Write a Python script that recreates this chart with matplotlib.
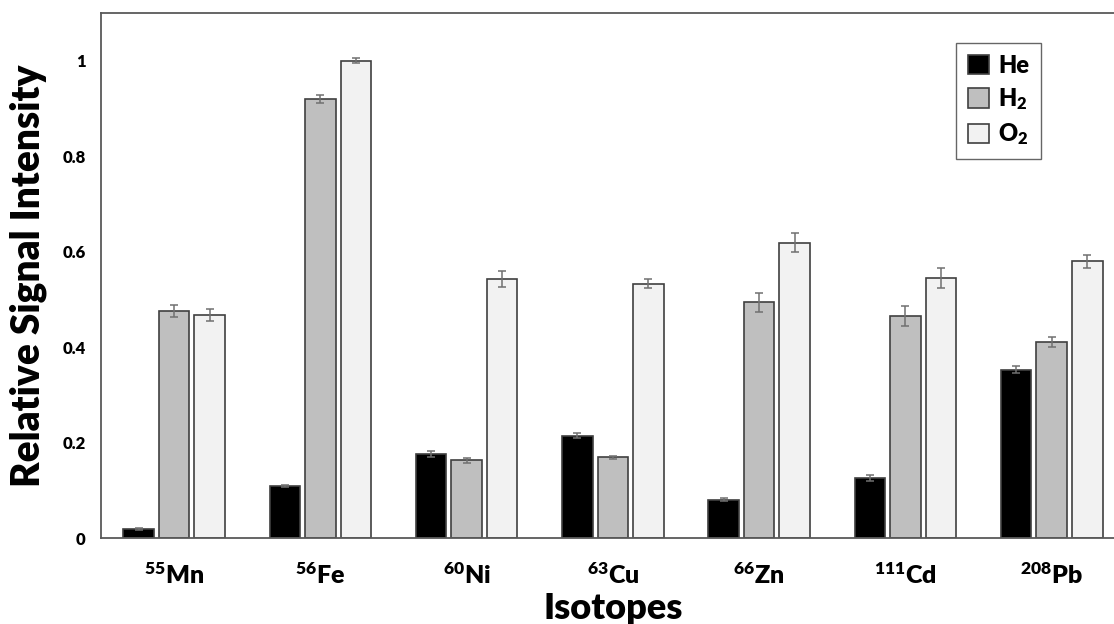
import matplotlib
matplotlib.use("Agg")
import matplotlib.pyplot as plt
import numpy as np

plt.rcParams['font.family'] = ['Lato', 'DejaVu Sans']
plt.rcParams['mathtext.default'] = 'regular'

isotopes = ["$^{55}$Mn", "$^{56}$Fe", "$^{60}$Ni", "$^{63}$Cu", "$^{66}$Zn", "$^{111}$Cd", "$^{208}$Pb"]
series_names = ["He", "H$_2$", "O$_2$"]

he_vals = [0.019, 0.110, 0.176, 0.215, 0.081, 0.127, 0.353]
he_err = [0.002, 0.002, 0.006, 0.006, 0.003, 0.006, 0.008]
h2_vals = [0.476, 0.920, 0.163, 0.170, 0.494, 0.465, 0.411]
h2_err = [0.012, 0.008, 0.005, 0.003, 0.020, 0.021, 0.010]
o2_vals = [0.467, 1.000, 0.543, 0.533, 0.619, 0.545, 0.580]
o2_err = [0.012, 0.005, 0.016, 0.010, 0.019, 0.021, 0.014]

colors = ["#000000", "#bfbfbf", "#f2f2f2"]
edge = "#404040"
W = 'heavy'

fig = plt.figure(figsize=(11.14, 6.24), dpi=100)
ax = fig.add_axes([0.0907, 0.1373, 0.919, 0.8423])

x = np.arange(len(isotopes))
width = 0.209
offset = 0.243
for i, (vals, errs) in enumerate([(he_vals, he_err), (h2_vals, h2_err), (o2_vals, o2_err)]):
    ax.bar(x + (i - 1) * offset, vals, width, color=colors[i], edgecolor=edge,
           linewidth=1.2, label=series_names[i], zorder=2,
           yerr=errs, error_kw=dict(ecolor="#707070", elinewidth=1.1, capsize=3, capthick=1.1))

ax.set_xlim(-0.5, len(isotopes) - 0.5)
ax.set_ylim(0, 1.1)
ax.set_yticks([0, 0.2, 0.4, 0.6, 0.8, 1.0])
ax.set_yticklabels(["0", "0.2", "0.4", "0.6", "0.8", "1"])
ax.set_xticks(x)
ax.set_xticklabels(isotopes)
ax.tick_params(axis='y', length=0, pad=11, labelsize=12)
ax.tick_params(axis='x', length=0, pad=17, labelsize=18)
for lab in ax.get_xticklabels() + ax.get_yticklabels():
    lab.set_fontweight(W)

for s in ax.spines.values():
    s.set_color("#595959")
    s.set_linewidth(1.3)
ax.spines['right'].set_visible(False)

ax.set_ylabel("Relative Signal Intensity", fontsize=28, fontweight=W, labelpad=11)
ax.set_xlabel("Isotopes", fontsize=26, fontweight=W, labelpad=3)

leg = fig.legend(loc='upper right', bbox_to_anchor=(1041 / 1114, 1 - 43 / 624),
                 borderaxespad=0,
                 prop={'weight': W, 'size': 17}, frameon=True, fancybox=False,
                 edgecolor="#404040", handlelength=0.9, handleheight=0.9,
                 handletextpad=0.4, labelspacing=0.4, borderpad=0.5)
leg.get_frame().set_linewidth(1.0)

fig.savefig("out.png", dpi=100)
